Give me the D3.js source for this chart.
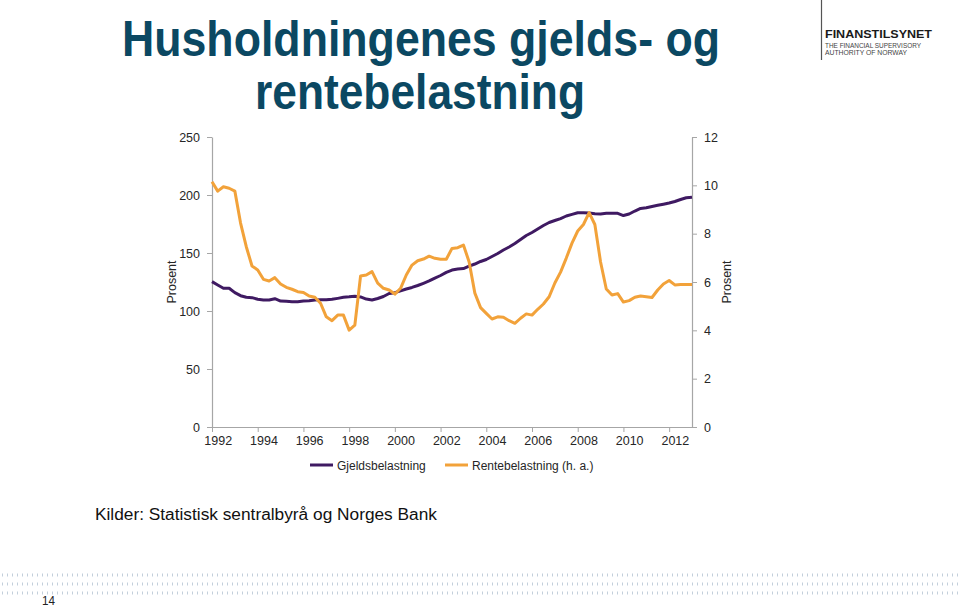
<!DOCTYPE html>
<html>
<head>
<meta charset="utf-8">
<script src="https://cdn.jsdelivr.net/npm/d3@7"></script>
<style>
html,body{margin:0;padding:0;background:#fff;}
svg{display:block;}
text{font-family:"Liberation Sans",Arial,sans-serif;}
</style>
</head>
<body>
<svg id="chart" width="960" height="609"></svg>
<script>
// ---- data ----
const tickYears = ["1992","1994","1996","1998","2000","2002","2004","2006","2008","2010","2012"];
const leftTicks = [0,50,100,150,200,250];
const rightTicks = [0,2,4,6,8,10,12];
// Gjeldsbelastning (venstre akse), kvartal 1991K4 - 2012K4
const gjeld = [125.3,122.4,119.6,119.6,115.8,113.2,111.8,111.5,110.1,109.5,109.5,110.6,108.6,108.4,108.0,108.0,108.6,108.9,109.5,109.7,
  109.7,110.1,110.9,111.8,112.2,112.8,112.1,110.3,109.5,110.8,112.5,115.1,115.8,117.4,119.0,120.3,122.0,123.9,125.9,128.4,
  130.6,133.3,135.3,136.2,136.6,138.6,140.5,142.7,144.4,147.0,149.6,152.6,155.2,158.2,161.6,165.1,167.7,170.7,173.7,176.3,
  178.0,179.7,181.9,183.3,184.7,184.7,184.5,183.8,183.6,184.2,184.2,184.2,182.3,183.6,186.2,188.4,189.0,190.1,191.1,192.1,
  193.1,194.4,196.1,197.6,198.0];
// Rentebelastning (hoyre akse)
const rente = [10.15,9.76,9.94,9.88,9.76,8.44,7.46,6.66,6.50,6.11,6.04,6.18,5.92,5.78,5.70,5.60,5.57,5.42,5.37,5.12,
  4.56,4.40,4.63,4.63,4.01,4.22,6.25,6.29,6.43,5.95,5.74,5.67,5.50,5.74,6.29,6.70,6.88,6.95,7.07,6.98,
  6.94,6.94,7.39,7.42,7.53,6.83,5.54,4.94,4.70,4.47,4.56,4.54,4.40,4.29,4.50,4.68,4.63,4.87,5.09,5.39,
  5.96,6.41,6.99,7.61,8.11,8.38,8.87,8.38,6.83,5.71,5.46,5.52,5.17,5.23,5.37,5.42,5.39,5.36,5.67,5.92,
  6.06,5.88,5.90,5.90,5.90];
const seriesNames = ["Gjeldsbelastning","Rentebelastning (h. a.)"];
const colors = ["#3f1a62","#f2a23a"];

const svg = d3.select("#chart");

// ---- title ----
const titleColor = "#0b4862";
svg.append("text").attr("x",421).attr("y",56).attr("text-anchor","middle")
  .attr("font-size",50).attr("font-weight","bold").attr("fill",titleColor)
  .attr("textLength",598).attr("lengthAdjust","spacingAndGlyphs")
  .text("Husholdningenes gjelds- og");
svg.append("text").attr("x",420).attr("y",109).attr("text-anchor","middle")
  .attr("font-size",50).attr("font-weight","bold").attr("fill",titleColor)
  .attr("textLength",330).attr("lengthAdjust","spacingAndGlyphs")
  .text("rentebelastning");

// ---- logo ----
svg.append("line").attr("x1",821.5).attr("x2",821.5).attr("y1",0).attr("y2",60)
  .attr("stroke","#555").attr("stroke-width",1.2);
svg.append("text").attr("x",825).attr("y",38).attr("font-size",10.5).attr("font-weight","bold")
  .attr("fill","#1a1a1a").attr("textLength",107).attr("lengthAdjust","spacingAndGlyphs").text("FINANSTILSYNET");
svg.append("text").attr("x",825).attr("y",47.5).attr("font-size",6.5)
  .attr("fill","#444").attr("textLength",96).attr("lengthAdjust","spacingAndGlyphs").text("THE FINANCIAL SUPERVISORY");
svg.append("text").attr("x",825).attr("y",55).attr("font-size",6.5)
  .attr("fill","#444").attr("textLength",82).attr("lengthAdjust","spacingAndGlyphs").text("AUTHORITY OF NORWAY");

// ---- scales ----
const x = d3.scaleLinear().domain([0, gjeld.length-1]).range([212,692]);
const yL = d3.scaleLinear().domain([0,250]).range([427,137]);
const yR = d3.scaleLinear().domain([0,12]).range([427,137]);
const axisColor = "#a6a6a6";
const labelColor = "#262626";

function styleAxis(g){
  g.selectAll("path.domain").attr("stroke",axisColor).attr("stroke-width",1.2);
  g.selectAll(".tick line").attr("stroke",axisColor);
  g.selectAll(".tick text").attr("fill",labelColor).attr("font-size",12.5)
    .attr("font-family","'Liberation Sans',Arial,sans-serif");
}

const gl = svg.append("g").attr("transform","translate(212,0)")
  .call(d3.axisLeft(yL).tickValues(leftTicks).tickSize(5).tickPadding(7).tickSizeOuter(0));
styleAxis(gl);
const gr = svg.append("g").attr("transform","translate(692,0)")
  .call(d3.axisRight(yR).tickValues(rightTicks).tickSize(5).tickPadding(7).tickSizeOuter(0));
styleAxis(gr);

const tickIdx = tickYears.map((d,i)=>i*8);
const gb = svg.append("g").attr("transform","translate(0,427)")
  .call(d3.axisBottom(x).tickValues(tickIdx).tickSize(5).tickPadding(4).tickSizeOuter(0)
    .tickFormat((d,i)=>tickYears[i]));
styleAxis(gb);
gb.selectAll(".tick text").attr("dx", x(1)-x(0));

// axis titles
svg.append("text").attr("transform","translate(176,282) rotate(-90)").attr("text-anchor","middle")
  .attr("font-size",12.5).attr("fill",labelColor).text("Prosent");
svg.append("text").attr("transform","translate(731,282) rotate(-90)").attr("text-anchor","middle")
  .attr("font-size",12.5).attr("fill",labelColor).text("Prosent");

// ---- lines ----
const lineL = d3.line().x((d,i)=>x(i)).y(d=>yL(d));
const lineR = d3.line().x((d,i)=>x(i)).y(d=>yR(d));
svg.append("path").datum(gjeld).attr("d",lineL).attr("fill","none")
  .attr("stroke",colors[0]).attr("stroke-width",3).attr("stroke-linejoin","round");
svg.append("path").datum(rente).attr("d",lineR).attr("fill","none")
  .attr("stroke",colors[1]).attr("stroke-width",3).attr("stroke-linejoin","round");

// ---- legend ----
const legendItems = [{x:310, name:seriesNames[0], c:colors[0]},{x:445, name:seriesNames[1], c:colors[1]}];
legendItems.forEach(it=>{
  svg.append("line").attr("x1",it.x).attr("x2",it.x+23).attr("y1",465).attr("y2",465)
    .attr("stroke",it.c).attr("stroke-width",3);
  svg.append("text").attr("x",it.x+27).attr("y",469.5).attr("font-size",12).attr("fill",labelColor).text(it.name);
});

// ---- source ----
svg.append("text").attr("x",95).attr("y",520).attr("font-size",17.3).attr("fill","#111")
  .text("Kilder: Statistisk sentralbyrå og Norges Bank");

// ---- dotted band ----
const rows = [575,584,593];
const dotsX = d3.range(2, 960, 5);
rows.forEach(ry=>{
  svg.append("g").selectAll("rect").data(dotsX).join("rect")
    .attr("x",d=>d).attr("y",ry-1.5).attr("width",1).attr("height",3).attr("fill","#c3cfdb");
});

// page number
svg.append("text").attr("x",42).attr("y",605).attr("font-size",12).attr("fill","#222")
  .attr("textLength",13).attr("lengthAdjust","spacingAndGlyphs").text("14");
</script>
</body>
</html>
